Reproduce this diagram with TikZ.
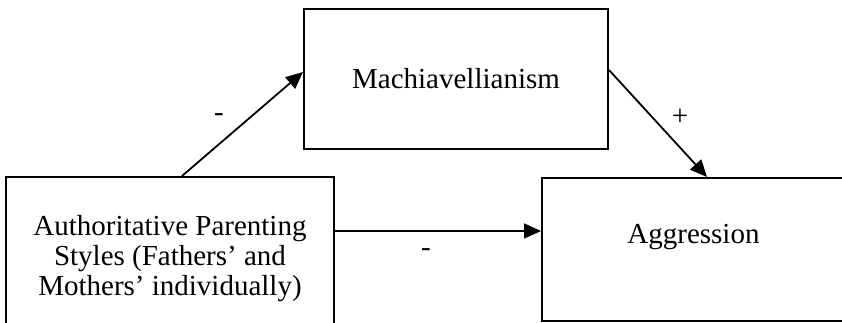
\documentclass[tikz,border=0pt]{standalone}
\usepackage{fontspec}
\setmainfont{Liberation Serif}
\usetikzlibrary{arrows.meta,calc}
\tikzset{
  box/.style={draw, line width=2pt, inner sep=0pt},
  arr/.style={line width=1.8pt, -{Triangle[length=17pt,width=15pt]}},
  sign/.style={inner sep=0pt}
}
\begin{document}
\begin{tikzpicture}[x=1pt,y=-1pt, font=\fontsize{29}{30}\selectfont]
\useasboundingbox (0,0) rectangle (842,323);
\clip (0,0) rectangle (842,323);
\node[box, minimum width=328pt, minimum height=163pt, align=center] (lb) at (170,258.5)
  {Authoritative Parenting\\Styles (Fathers’ and\\Mothers’ individually)};
\node[box, minimum width=304pt, minimum height=140pt] (mach) at (456,79) {Machiavellianism};
\node[box, minimum width=303pt, minimum height=143pt,
  label={[yshift=12pt]center:Aggression}] (agg) at (693.5,249.5) {};
\draw[arr] ([xshift=12pt]lb.north) -- ([yshift=7pt]mach.west);
\draw[arr] ([yshift=9pt]mach.east) -- ([xshift=13.5pt]agg.north);
\draw[arr] ([yshift=27.5pt]lb.east) -- ([yshift=27.5pt]lb.east -| agg.west);
\node[sign] (s1) at (219,118) {-};
\node[sign] (s2) at (680,117) {+};
\node[sign] (s3) at (426,253) {-};
\end{tikzpicture}
\end{document}
